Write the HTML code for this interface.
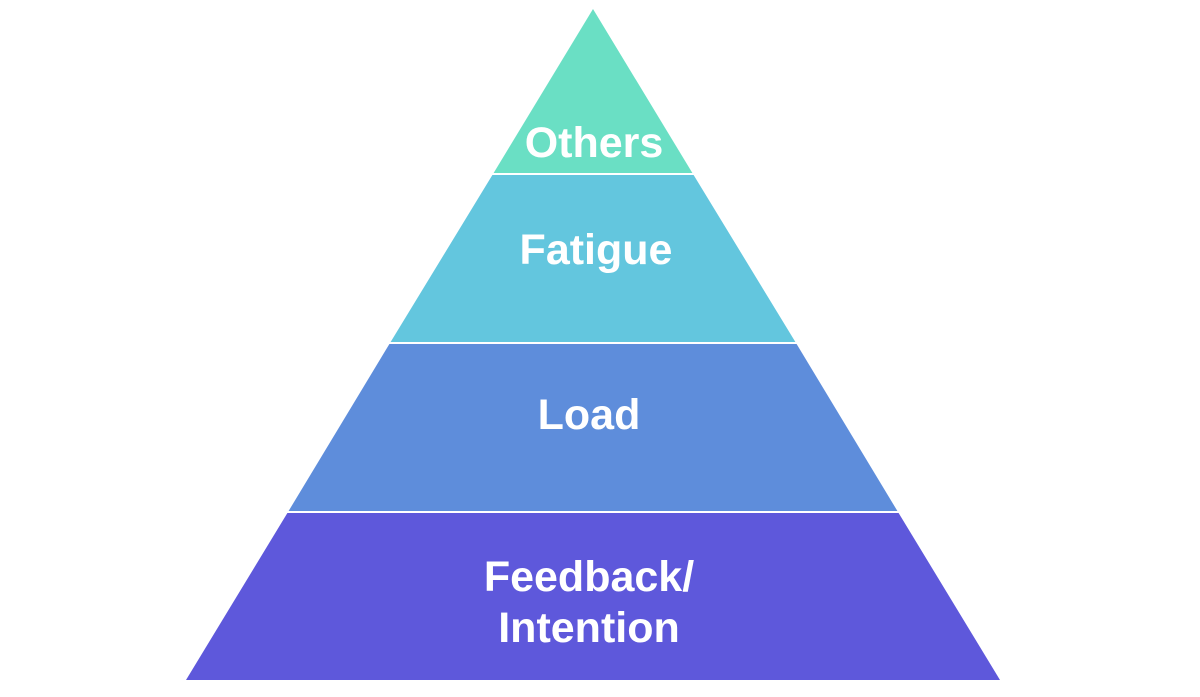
<!DOCTYPE html>
<html><head><style>
html,body{margin:0;padding:0;background:#fff;}
svg{display:block}
text{font-family:"Liberation Sans",Arial,sans-serif;font-weight:bold;fill:#fff;font-size:43px;text-anchor:middle}
</style></head><body>
<svg width="1200" height="697" viewBox="0 0 1200 697">
<polygon points="593,9 493,174 693,174" fill="#6adfc4"/>
<polygon points="493,174 693,174 796,343 390,343" fill="#63c6de"/>
<polygon points="390,343 796,343 898,512 288,512" fill="#5e8ddb"/>
<polygon points="288,512 898,512 1000,680 186,680" fill="#5e58db"/>
<line x1="480" y1="174" x2="706" y2="174" stroke="#fff" stroke-width="2"/>
<line x1="380" y1="343" x2="806" y2="343" stroke="#fff" stroke-width="2"/>
<line x1="278" y1="512" x2="908" y2="512" stroke="#fff" stroke-width="2"/>
<text x="594" y="157">Others</text>
<text x="596" y="264">Fatigue</text>
<text x="589" y="429">Load</text>
<text x="589" y="591">Feedback/</text>
<text x="589" y="642">Intention</text>
</svg>
</body></html>
